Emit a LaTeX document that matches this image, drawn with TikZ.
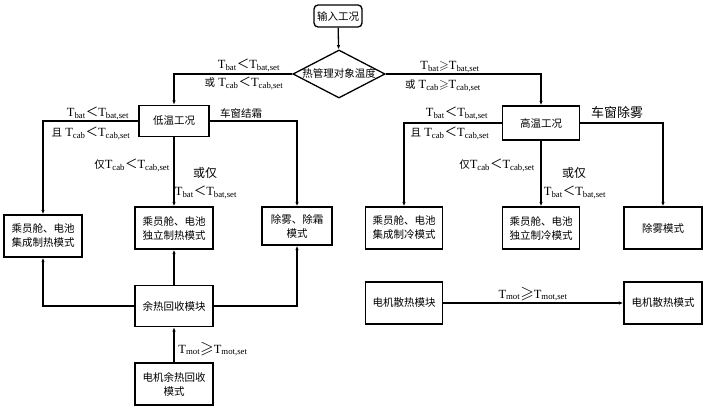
\documentclass[tikz,border=0pt]{standalone}
\usepackage{fontspec}
\usepackage{amssymb}
\setmainfont{Liberation Serif}
\newfontfamily\cjk{Noto Sans CJK SC}
\usetikzlibrary{arrows.meta,shapes.geometric}

\newcommand{\zh}[1]{{\cjk\fontsize{10.5}{12}\selectfont #1}}
\newcommand{\lsign}{{\cjk ＜}}
\newcommand{\gsign}{$\geqslant$}
\newcommand{\Tc}[2]{T\textsubscript{#1}#2T\textsubscript{#1,set}}

\begin{document}
\begin{tikzpicture}[x=1pt, y=-1pt, line width=1.3pt, >={Latex[length=4.5pt,width=3.5pt]},
  box/.style={draw, minimum width=78pt, minimum height=42pt, align=center, inner sep=1pt, font=\cjk\fontsize{10.5}{14}\selectfont},
  lbl/.style={inner sep=0pt, font=\fontsize{12.5}{14}\selectfont}]
\useasboundingbox (0,0) rectangle (708,409);

\node[box, rounded corners=4pt, minimum width=48pt, minimum height=22pt] (input) at (338,16) {输入工况};
\node[box, diamond, aspect=1.92, minimum width=92pt, minimum height=48pt, inner sep=0pt] (obj) at (339,74) {热管理对象温度};

\node[box, minimum width=70pt, minimum height=31pt] (low) at (174,121) {低温工况};
\node[box] (intH) at (43,236) {乘员舱、电池\\集成制热模式};
\node[box] (indH) at (174,228) {乘员舱、电池\\独立制热模式};
\node[box, minimum width=70pt, minimum height=38pt] (defrost) at (297,226) {除雾、除霜\\模式};
\node[box, minimum height=41pt] (waste) at (174,306) {余热回收模块};
\node[box] (motW) at (174,384) {电机余热回收\\模式};

\node[box, minimum width=77pt, minimum height=34pt] (high) at (541,123) {高温工况};
\node[box, minimum width=77pt] (intC) at (404,228) {乘员舱、电池\\集成制冷模式};
\node[box, minimum width=77pt] (indC) at (541,228) {乘员舱、电池\\独立制冷模式};
\node[box, minimum width=78pt] (demist) at (663,228) {除雾模式};
\node[box, minimum width=77pt] (motC) at (404,303) {电机散热模块};
\node[box, minimum width=78pt] (motM) at (663,303) {电机散热模式};

\draw[->] (input) -- (obj);
\draw[->] (obj.west) -| (low.north);
\draw[->] (obj.east) -| (high.north);

\draw[->] (low.west) -| (intH.north);
\draw[->] (low.east) -| (defrost.north);
\draw[->] (low) -- (indH);
\draw[->] (waste.west) -| (intH.south);
\draw[->] (waste.east) -| (defrost.south);
\draw[->] (waste) -- (indH);
\draw[->] (motW) -- (waste);

\draw[->] (high.west) -| (intC.north);
\draw[->] (high) -- (indC);
\draw[->] (high.east) -| (demist.north);
\draw[->] (motC) -- (motM);

\node[lbl] (la) at (249,65) {\Tc{bat}{\lsign}};
\node[lbl] (lb) at (244,83) {\zh{或} \Tc{cab}{\lsign}};
\node[lbl] (ha) at (450,67) {\Tc{bat}{\gsign}};
\node[lbl] (hb) at (443,86) {\zh{或} \Tc{cab}{\gsign}};

\node[lbl] (lc) at (98,113) {\Tc{bat}{\lsign}};
\node[lbl] (ld) at (91,133) {\zh{且} \Tc{cab}{\lsign}};
\node[lbl] (le) at (241,113) {\zh{车窗结霜}};
\node[lbl] (lf) at (132,165) {\zh{仅}\Tc{cab}{\lsign}};
\node[lbl, font=\cjk\fontsize{12}{14}\selectfont] (lg) at (205,173) {或仅};
\node[lbl] (lh) at (206,192) {\Tc{bat}{\lsign}};
\node[lbl] (li) at (213,349) {\Tc{mot}{\scalebox{1.4}{\gsign}}};

\node[lbl] (hc) at (457,113) {\Tc{bat}{\lsign}};
\node[lbl] (hd) at (450,133) {\zh{且} \Tc{cab}{\lsign}};
\node[lbl, font=\cjk\fontsize{13}{14}\selectfont] (he) at (617,113) {车窗除雾};
\node[lbl] (hf) at (497,165) {\zh{仅}\Tc{cab}{\lsign}};
\node[lbl, font=\cjk\fontsize{12}{14}\selectfont] (hg) at (574,173) {或仅};
\node[lbl] (hh) at (575,192) {\Tc{bat}{\lsign}};
\node[lbl] (hi) at (533,294) {\Tc{mot}{\scalebox{1.4}{\gsign}}};
\end{tikzpicture}
\end{document}
